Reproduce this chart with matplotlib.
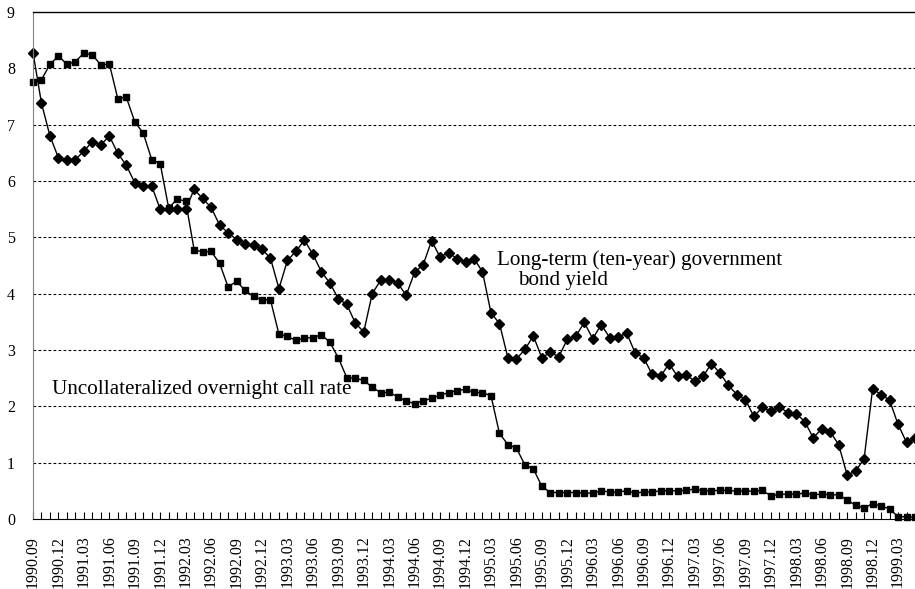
import matplotlib
matplotlib.use("Agg")
import matplotlib.pyplot as plt
import numpy as np

plt.rcParams["font.family"] = ["Liberation Serif", "DejaVu Serif"]

# monthly data, 1990.09 onwards
start_year, start_month = 1990, 9

bond_yield = [
    8.28, 7.38, 6.80, 6.41, 6.38, 6.38, 6.53, 6.70, 6.64, 6.80,
    6.49, 6.28, 5.97, 5.91, 5.91, 5.50, 5.50, 5.50, 5.50, 5.85,
    5.69, 5.53, 5.22, 5.08, 4.96, 4.89, 4.86, 4.79, 4.63, 4.09,
    4.59, 4.75, 4.95, 4.70, 4.39, 4.19, 3.91, 3.81, 3.48, 3.32,
    4.00, 4.24, 4.25, 4.19, 3.97, 4.38, 4.51, 4.94, 4.65, 4.73,
    4.62, 4.56, 4.62, 4.39, 3.66, 3.47, 2.86, 2.84, 3.01, 3.25,
    2.86, 2.96, 2.88, 3.19, 3.24, 3.49, 3.20, 3.45, 3.22, 3.23,
    3.30, 2.95, 2.86, 2.57, 2.53, 2.76, 2.53, 2.56, 2.45, 2.53,
    2.76, 2.59, 2.37, 2.21, 2.12, 1.82, 1.98, 1.91, 1.99, 1.89,
    1.87, 1.73, 1.44, 1.60, 1.55, 1.32, 0.78, 0.85, 1.07, 2.31,
    2.21, 2.11, 1.68, 1.36, 1.43,
]

call_rate = [
    7.75, 7.80, 8.07, 8.22, 8.07, 8.12, 8.27, 8.24, 8.06, 8.08,
    7.46, 7.49, 7.05, 6.85, 6.38, 6.31, 5.52, 5.68, 5.64, 4.78,
    4.74, 4.75, 4.54, 4.12, 4.22, 4.06, 3.95, 3.89, 3.89, 3.28,
    3.24, 3.17, 3.21, 3.22, 3.27, 3.14, 2.86, 2.51, 2.50, 2.46,
    2.34, 2.24, 2.25, 2.17, 2.09, 2.05, 2.10, 2.14, 2.20, 2.24,
    2.28, 2.30, 2.25, 2.24, 2.19, 1.52, 1.32, 1.26, 0.96, 0.89,
    0.58, 0.47, 0.47, 0.47, 0.47, 0.46, 0.46, 0.50, 0.48, 0.48,
    0.50, 0.46, 0.48, 0.48, 0.50, 0.50, 0.50, 0.51, 0.53, 0.50,
    0.50, 0.51, 0.51, 0.49, 0.50, 0.49, 0.51, 0.41, 0.44, 0.44,
    0.44, 0.46, 0.43, 0.44, 0.43, 0.43, 0.34, 0.24, 0.20, 0.27,
    0.23, 0.18, 0.04, 0.04, 0.03,
]

n = len(bond_yield)
months = [f"{start_year + (start_month - 1 + i) // 12}.{(start_month - 1 + i) % 12 + 1:02d}"
          for i in range(n)]
x = np.arange(n)

fig = plt.figure(figsize=(9.15, 5.89), dpi=100)
ax = fig.add_axes([33 / 915, 1 - 519 / 589, 1 - 33 / 915, (519 - 12) / 589])

ax.plot(x, bond_yield, color="black", lw=1.0, marker="D", ms=5.4, mfc="black", mec="black", clip_on=False)
ax.plot(x, call_rate, color="black", lw=1.0, marker="s", ms=4.7, mfc="black", mec="black", clip_on=False)

ax.set_ylim(0, 9)
ax.set_xlim(0, 103.5)
ax.set_yticks(range(10))
for yv in range(1, 9):
    ax.axhline(yv, color="black", lw=0.8, ls=(0, (2.5, 2)), zorder=0)

ax.set_xticks(x[::3])
ax.set_xticklabels(months[::3], rotation=90, fontsize=11.5)
ax.set_xticks(x, minor=True)
ax.tick_params(axis="x", which="both", direction="in", length=5, width=0.8, pad=12)
ax.tick_params(axis="y", length=0, pad=13, labelsize=11.5)

ax.spines["right"].set_visible(False)
ax.spines["left"].set_color("#808080")
ax.spines["top"].set_linewidth(1.0)

ax.text(2.2, 2.22, "Uncollateralized overnight call rate", fontsize=15.2, va="baseline")
ax.text(54.7, 4.51, "Long-term (ten-year) government", fontsize=15.2, va="baseline")
ax.text(57.2, 4.15, "bond yield", fontsize=15.2, va="baseline")

fig.savefig("out.png", dpi=100)
